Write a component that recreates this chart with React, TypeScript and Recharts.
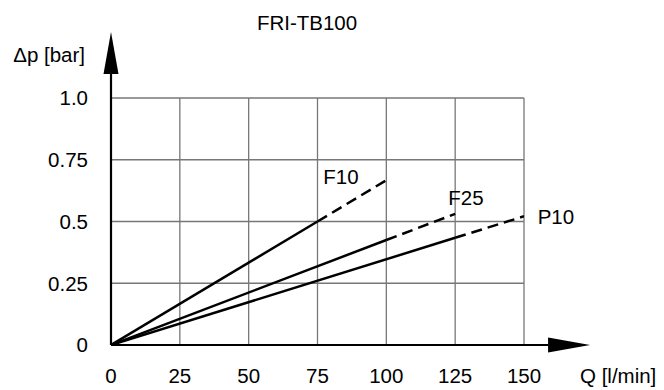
import {
  LineChart,
  Line,
  XAxis,
  YAxis,
  CartesianGrid,
  ReferenceLine,
  ReferenceDot,
} from "recharts";

// flow Q [l/min] vs pressure drop Δp [bar]
const qTicks = [0, 25, 50, 75, 100, 125, 150];
const dpTicks = [0, 0.25, 0.5, 0.75, 1.0];
const dpTickLabels = ["0", "0.25", "0.5", "0.75", "1.0"];

const f10Solid = [[0, 0], [75, 0.5]];
const f10Dashed = [[75, 0.5], [100, 0.667]];
const f25Solid = [[0, 0], [100, 0.425]];
const f25Dashed = [[100, 0.425], [125, 0.531]];
const p10Solid = [[0, 0], [125, 0.434]];
const p10Dashed = [[125, 0.434], [150, 0.521]];

const seriesLabels = [
  { name: "F10", q: 83.5, dp: 0.684 },
  { name: "F25", q: 128.9, dp: 0.597 },
  { name: "P10", q: 161.6, dp: 0.52 },
];

const axisEnd = { q: 174, dp: 1.267 };

const FONT = "'Liberation Sans', Arial, sans-serif";
const FS = 20.5;

const toPts = (arr: number[][]) => arr.map(([q, dp]) => ({ q, dp }));

const ArrowLine = (props: any) => {
  const { x1, y1, x2, y2 } = props;
  const dx = x2 - x1;
  const dy = y2 - y1;
  const len = Math.sqrt(dx * dx + dy * dy) || 1;
  const ux = dx / len;
  const uy = dy / len;
  const head = 42;
  const half = 7.5;
  const bx = x2 - ux * head;
  const by = y2 - uy * head;
  const pts = [
    `${x2},${y2}`,
    `${bx - uy * half},${by + ux * half}`,
    `${bx + uy * half},${by - ux * half}`,
  ].join(" ");
  return (
    <g>
      <line x1={x1} y1={y1} x2={bx} y2={by} stroke="#000" strokeWidth={2.2} />
      <polygon points={pts} fill="#000" />
    </g>
  );
};

const LabelText = (name: string) => (p: any) => (
  <text
    x={p.cx}
    y={p.cy}
    textAnchor="middle"
    dominantBaseline="central"
    fontFamily={FONT}
    fontSize={FS}
    fill="#000"
  >
    {name}
  </text>
);

export default function App() {
  const lineCommon = {
    type: "linear" as const,
    dataKey: "dp",
    stroke: "#000",
    strokeWidth: 2.5,
    dot: false,
    activeDot: false,
    isAnimationActive: false,
  };
  return (
    <div style={{ position: "absolute", left: 0, top: 0, width: 664, height: 390, background: "#fff" }}>
      <LineChart
        width={664}
        height={390}
        margin={{ top: 98, right: 140, bottom: 0, left: 0 }}
      >
        <CartesianGrid stroke="#777" strokeWidth={1.3} />
        <XAxis
          type="number"
          dataKey="q"
          domain={[0, 150]}
          ticks={qTicks}
          height={45}
          axisLine={false}
          tickLine={false}
          tickSize={0}
          tickMargin={23}
          interval={0}
          tick={{ fill: "#000", fontSize: FS, fontFamily: FONT }}
          allowDataOverflow
        />
        <YAxis
          type="number"
          dataKey="dp"
          domain={[0, 1]}
          ticks={dpTicks}
          width={111}
          axisLine={false}
          tickLine={false}
          tickSize={0}
          tickMargin={23}
          interval={0}
          tickFormatter={(v: number) => dpTickLabels[dpTicks.indexOf(v)] ?? String(v)}
          tick={{ fill: "#000", fontSize: FS, fontFamily: FONT }}
          allowDataOverflow
        />
        <Line {...lineCommon} data={toPts(f10Solid)} />
        <Line {...lineCommon} data={toPts(f10Dashed)} strokeDasharray="11 6" />
        <Line {...lineCommon} data={toPts(f25Solid)} />
        <Line {...lineCommon} data={toPts(f25Dashed)} strokeDasharray="11 6" />
        <Line {...lineCommon} data={toPts(p10Solid)} />
        <Line {...lineCommon} data={toPts(p10Dashed)} strokeDasharray="11 6" />
        <ReferenceLine
          segment={[{ x: 0, y: 0 }, { x: 0, y: axisEnd.dp }]}
          ifOverflow="visible"
          shape={ArrowLine}
        />
        <ReferenceLine
          segment={[{ x: 0, y: 0 }, { x: axisEnd.q, y: 0 }]}
          ifOverflow="visible"
          shape={ArrowLine}
        />
        {seriesLabels.map((l) => (
          <ReferenceDot
            key={l.name}
            x={l.q}
            y={l.dp}
            r={0}
            ifOverflow="visible"
            shape={LabelText(l.name)}
          />
        ))}
      </LineChart>
      <svg
        width={664}
        height={390}
        style={{ position: "absolute", left: 0, top: 0, pointerEvents: "none" }}
      >
        <g fontFamily={FONT} fontSize={FS} fill="#000">
          <text x={307} y={30} textAnchor="middle">FRI-TB100</text>
          <text x={85} y={62} textAnchor="end">Δp [bar]</text>
          <text x={580} y={383} textAnchor="start">Q [l/min]</text>
        </g>
      </svg>
    </div>
  );
}
